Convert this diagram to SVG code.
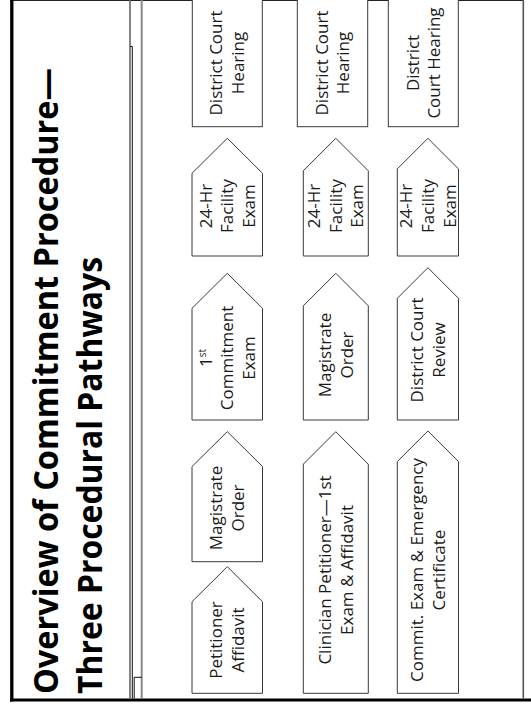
<svg xmlns="http://www.w3.org/2000/svg" width="531" height="705" viewBox="0 0 531 705">
<style>
.bg{fill:#ffffff}
.box{fill:#ffffff;stroke:#3a3a3a;stroke-width:1}
.t{font-family:"Open Sans","Noto Sans","DejaVu Sans",sans-serif;font-size:17px;fill:#1a1a1a;text-anchor:middle}
.title{font-family:"Open Sans","Noto Sans","DejaVu Sans",sans-serif;font-size:33.5px;font-weight:bold;fill:#000000}
.sup{font-size:10px}
</style>
<rect class="bg" x="0" y="0" width="531" height="705"/>
<g id="frame" fill="none">
  <line x1="10" y1="0.5" x2="524" y2="0.5" stroke="#222" stroke-width="1"/>
  <line x1="11.8" y1="0" x2="11.8" y2="701.5" stroke="#000" stroke-width="3.3"/>
  <line x1="10" y1="700" x2="531" y2="700" stroke="#000" stroke-width="3"/>
  <line x1="523.3" y1="0" x2="523.3" y2="698.5" stroke="#555" stroke-width="1.6"/>
  <line x1="130" y1="0" x2="130" y2="698.5" stroke="#666" stroke-width="1.6"/>
  <line x1="141.7" y1="0" x2="141.7" y2="698.5" stroke="#888" stroke-width="2"/>
  <polyline points="130,46.5 132.3,46.5 132.3,698.5" stroke="#111" stroke-width="1"/>
  <polyline points="134.2,698.5 134.2,677.3 141.7,677.3" stroke="#111" stroke-width="1"/>
</g>
<g id="title">
  <text class="title" transform="translate(57.5,694) rotate(-90)" textLength="626" lengthAdjust="spacingAndGlyphs">Overview of Commitment Procedure—</text>
  <text class="title" transform="translate(101.5,694) rotate(-90)" textLength="437" lengthAdjust="spacingAndGlyphs">Three Procedural Pathways</text>
</g>
<g id="connectors"></g>
<!-- Row 1 -->
<g id="n1-petitioner-affidavit">
  <polygon class="box" points="192,693.3 192,601.7 227.3,566.7 262.5,601.7 262.5,693.3"/>
  <text class="t" transform="translate(222.4,640) rotate(-90)"><tspan x="0" y="0">Petitioner</tspan><tspan x="0" y="21.7">Affidavit</tspan></text>
</g>
<g id="n1-magistrate-order">
  <polygon class="box" points="192,561.7 192,466.5 227.3,431.7 262.5,466.5 262.5,561.7"/>
  <text class="t" transform="translate(222.4,508) rotate(-90)"><tspan x="0" y="0">Magistrate</tspan><tspan x="0" y="21.7">Order</tspan></text>
</g>
<g id="n1-first-commitment-exam">
  <polygon class="box" points="192,420 192,308.3 227.3,273.3 262.5,308.3 262.5,420"/>
  <text class="t" transform="translate(211.6,358) rotate(-90)"><tspan x="0" y="0">1<tspan class="sup" dy="-6">st</tspan></tspan><tspan x="0" y="21.7">Commitment</tspan><tspan x="0" y="43.4">Exam</tspan></text>
</g>
<g id="n1-24hr-facility-exam">
  <polygon class="box" points="192,256 192,173.3 227.3,138.3 262.5,173.3 262.5,256"/>
  <text class="t" transform="translate(211.6,206) rotate(-90)"><tspan x="0" y="0">24-Hr</tspan><tspan x="0" y="21.7">Facility</tspan><tspan x="0" y="43.4">Exam</tspan></text>
</g>
<g id="n1-district-court-hearing">
  <rect class="box" x="192.3" y="-1" width="70" height="127.7"/>
  <text class="t" transform="translate(222.4,63) rotate(-90)"><tspan x="0" y="0">District Court</tspan><tspan x="0" y="21.7">Hearing</tspan></text>
</g>
<!-- Row 2 -->
<g id="n2-clinician-petitioner">
  <polygon class="box" points="303.3,693.3 303.3,464.2 335.8,431.7 368.3,464.2 368.3,693.3"/>
  <text class="t" transform="translate(330.9,570) rotate(-90)"><tspan x="0" y="0">Clinician Petitioner—1st</tspan><tspan x="0" y="21.7">Exam &amp; Affidavit</tspan></text>
</g>
<g id="n2-magistrate-order">
  <polygon class="box" points="303.3,420 303.3,305.8 335.8,273.3 368.3,305.8 368.3,420"/>
  <text class="t" transform="translate(330.9,355) rotate(-90)"><tspan x="0" y="0">Magistrate</tspan><tspan x="0" y="21.7">Order</tspan></text>
</g>
<g id="n2-24hr-facility-exam">
  <polygon class="box" points="303.3,256 303.3,170.8 335.8,138.3 368.3,170.8 368.3,256"/>
  <text class="t" transform="translate(320.1,206) rotate(-90)"><tspan x="0" y="0">24-Hr</tspan><tspan x="0" y="21.7">Facility</tspan><tspan x="0" y="43.4">Exam</tspan></text>
</g>
<g id="n2-district-court-hearing">
  <rect class="box" x="297.3" y="-1" width="70.4" height="127.7"/>
  <text class="t" transform="translate(327.7,63) rotate(-90)"><tspan x="0" y="0">District Court</tspan><tspan x="0" y="21.7">Hearing</tspan></text>
</g>
<!-- Row 3 -->
<g id="n3-commit-exam-emergency-certificate">
  <polygon class="box" points="397.3,693.3 397.3,461.6 427.9,431 458.5,461.6 458.5,693.3"/>
  <text class="t" transform="translate(423,570) rotate(-90)"><tspan x="0" y="0">Commit. Exam &amp; Emergency</tspan><tspan x="0" y="21.7">Certificate</tspan></text>
</g>
<g id="n3-district-court-review">
  <polygon class="box" points="397.3,420 397.3,298.3 427.9,267.7 458.5,298.3 458.5,420"/>
  <text class="t" transform="translate(423,350) rotate(-90)"><tspan x="0" y="0">District Court</tspan><tspan x="0" y="21.7">Review</tspan></text>
</g>
<g id="n3-24hr-facility-exam">
  <polygon class="box" points="397.3,256 397.3,168.9 427.9,138.3 458.5,168.9 458.5,256"/>
  <text class="t" transform="translate(412.2,206) rotate(-90)"><tspan x="0" y="0">24-Hr</tspan><tspan x="0" y="21.7">Facility</tspan><tspan x="0" y="43.4">Exam</tspan></text>
</g>
<g id="n3-district-court-hearing">
  <rect class="box" x="388.3" y="-1" width="70" height="127.7"/>
  <text class="t" transform="translate(418.5,63) rotate(-90)"><tspan x="0" y="0">District</tspan><tspan x="0" y="21.7">Court Hearing</tspan></text>
</g>
</svg>
